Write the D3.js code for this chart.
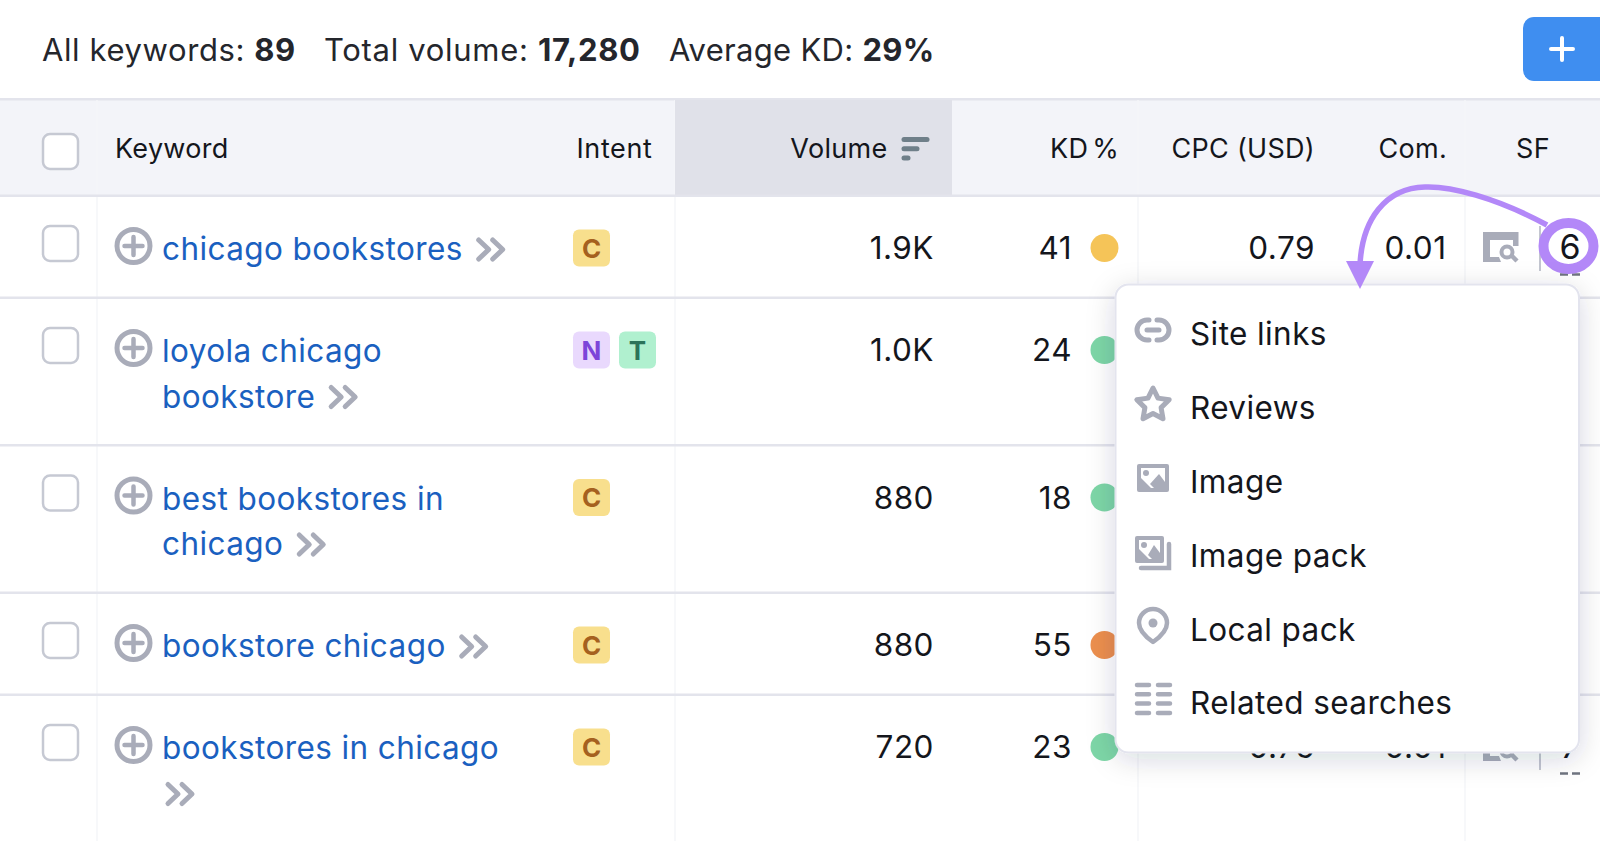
<!DOCTYPE html>
<html>
<head>
<meta charset="utf-8">
<script src="https://cdn.jsdelivr.net/npm/d3@7"></script>
<style>
  html, body { margin: 0; padding: 0; background: #fff; overflow: hidden; }
  svg { display: block; font-family: Inter, "Noto Sans", sans-serif; }
</style>
</head>
<body>
<svg id="grafico"></svg>
<script>
// dados
const resumoRotulos = ["All keywords: ", "Total volume: ", "Average KD: "];
const resumoValores = ["89", "17,280", "29%"];
const colunas = ["Keyword", "Intent", "Volume", "KD %", "CPC (USD)", "Com.", "SF"];
const palavras = [
    ["chicago bookstores"],
    ["loyola chicago", "bookstore"],
    ["best bookstores in", "chicago"],
    ["bookstore chicago"],
    ["bookstores in chicago", ""]
];
const intencoes = [["C"], ["N", "T"], ["C"], ["C"], ["C"]];
const volumes = ["1.9K", "1.0K", "880", "880", "720"];
const kd = [41, 24, 18, 55, 23];
const cpc = ["0.79", null, null, null, "0.76"];
const com = ["0.01", null, null, null, "0.01"];
const sf = ["6", null, null, null, "7"];
const recursos = ["Site links", "Reviews", "Image", "Image pack", "Local pack", "Related searches"];

const largura = 1600, altura = 841;
const corTexto = "#14161c", corIcone = "#a9acb9", corLink = "#1a60c0", corLinha = "#e3e4ec", corRoxo = "#b388f8";

const svg = d3.select("#grafico").attr("width", largura).attr("height", altura);

// linhas da tabela: altura depende do numero de linhas do texto
const topoTabela = 196;
const alturas = palavras.map(p => 102 + (p.length - 1) * 45.5);
const topos = [topoTabela, ...d3.cumsum(alturas).map(v => v + topoTabela)];
const fnY = d3.scaleOrdinal().domain(d3.range(palavras.length)).range(topos);

const fnColuna = d3.scaleOrdinal()
    .domain(colunas)
    .range([115, 576.5, 887.5, 1119, 1315, 1447, 1533]);
const fnBorda = d3.scaleOrdinal()
    .domain(["Volume", "KD %", "CPC (USD)", "Com."])
    .range([934, 1072, 1315, 1446.5]);
const fnResumo = d3.scaleOrdinal().domain(resumoRotulos).range([42, 324, 669]);
const fnEspaco = d3.scaleOrdinal().domain(resumoRotulos).range([0.6, 0.7, 0.3]);
const fnCorKd = d3.scaleThreshold().domain([30, 50]).range(["#7dd6a7", "#f5c458", "#ec8f4e"]);
const fnCorIntent = d3.scaleOrdinal().domain(["C", "N", "T"]).range(["#f8df8d", "#e9d9fd", "#b0f0cf"]);
const fnTextoIntent = d3.scaleOrdinal().domain(["C", "N", "T"]).range(["#a5611f", "#7d45d9", "#2b7359"]);

// barra de resumo
const textoResumo = svg.append("g").selectAll("text").data(resumoRotulos).enter().append("text")
    .attr("x", d => fnResumo(d)).attr("y", 61)
    .attr("font-size", 31).attr("letter-spacing", d => fnEspaco(d)).attr("fill", "#24262c");
textoResumo.append("tspan").text(d => d);
textoResumo.append("tspan").attr("font-weight", 700).text((d, i) => resumoValores[i]);

svg.append("rect").attr("x", 1523).attr("y", 17).attr("width", 120).attr("height", 64).attr("rx", 11).attr("fill", "#3f8ef0");
svg.append("path").attr("d", "M1551,49H1573M1562,38V60")
    .attr("stroke", "#fff").attr("stroke-width", 4).attr("stroke-linecap", "round");

// cabecalho
svg.append("rect").attr("x", 0).attr("y", 99).attr("width", largura).attr("height", 97).attr("fill", "#f3f4f9");
svg.append("rect").attr("x", 0).attr("y", 98).attr("width", largura).attr("height", 2.5).attr("fill", corLinha);

// divisorias verticais
svg.append("g").selectAll("line").data([97, 675, 1138, 1465]).enter().append("line")
    .attr("x1", d => d).attr("x2", d => d).attr("y1", 100).attr("y2", altura)
    .attr("stroke", "#f5f6f9").attr("stroke-width", 1.5);
svg.append("rect").attr("x", 675).attr("y", 100).attr("width", 277).attr("height", 96).attr("fill", "#e0e1e9");

svg.append("g").selectAll("text").data(colunas).enter().append("text")
    .text(d => d)
    .attr("x", d => fnColuna(d))
    .attr("y", 158)
    .attr("text-anchor", d => (d === "Keyword" || d === "Intent") ? "start" : d === "SF" ? "middle" : "end")
    .attr("word-spacing", d => d === "KD %" ? -4 : 0)
    .attr("letter-spacing", d => d === "Intent" ? 0.6 : 0.3)
    .attr("font-size", 27).attr("fill", corTexto);

svg.append("g").selectAll("line").data([28, 18, 9]).enter().append("line")
    .attr("x1", 904).attr("x2", d => 904 + d - 5)
    .attr("y1", (d, i) => 139.5 + i * 9.3).attr("y2", (d, i) => 139.5 + i * 9.3)
    .attr("stroke", "#6f7f89").attr("stroke-width", 5).attr("stroke-linecap", "round");

function caixa(sel, x, y) {
    sel.append("rect").attr("x", x).attr("y", y).attr("width", 35).attr("height", 35).attr("rx", 7)
        .attr("fill", "#fff").attr("stroke", "#c6c9d3").attr("stroke-width", 2.5);
}
caixa(svg, 43, 134);

// linhas separadoras
svg.append("g").selectAll("rect").data(topos.slice(0, 5)).enter().append("rect")
    .attr("x", 0).attr("y", d => d - 1.5).attr("width", largura).attr("height", 2.5).attr("fill", corLinha);

// linhas de dados
const linhas = svg.append("g").selectAll("g").data(palavras).enter().append("g")
    .attr("transform", (d, i) => `translate(0,${fnY(i)})`);

linhas.each(function(linhasTexto, i) {
    const g = d3.select(this);
    caixa(g, 43, 30);

    // icone de adicionar
    g.append("circle").attr("cx", 133.5).attr("cy", 50).attr("r", 16.5).attr("fill", "#fff")
        .attr("stroke", corIcone).attr("stroke-width", 5);
    g.append("path").attr("d", "M124.5,50H142.5M133.5,41V59").attr("stroke", corIcone)
        .attr("stroke-width", 4.5).attr("stroke-linecap", "round");

    // palavra-chave com chevrons no fim
    let fimTexto = 162, yFim = 64;
    linhasTexto.forEach((t, j) => {
        const el = g.append("text").text(t).attr("x", 162).attr("y", 64 + j * 45.5)
            .attr("font-size", 31.5).attr("letter-spacing", 0.4).attr("fill", corLink);
        fimTexto = t ? 162 + el.node().getComputedTextLength() + 16 : 168;
        yFim = 64 + j * 45.5;
    });
    g.append("path")
        .attr("d", `M${fimTexto},${yFim - 20}l10,9.5l-10,9.5M${fimTexto + 14},${yFim - 20}l10,9.5l-10,9.5`)
        .attr("fill", "none").attr("stroke", corIcone).attr("stroke-width", 5).attr("stroke-linecap", "round").attr("stroke-linejoin", "round");

    // intencao
    const badges = g.selectAll(".intent").data(intencoes[i]).enter().append("g").classed("intent", true)
        .attr("transform", (d, k) => `translate(${573 + k * 46},33.5)`);
    badges.append("rect").attr("width", 37).attr("height", 37).attr("rx", 6).attr("fill", d => fnCorIntent(d));
    badges.append("text").text(d => d).attr("x", 18.5).attr("y", 28).attr("text-anchor", "middle")
        .attr("font-size", 26).attr("font-weight", 700).attr("fill", d => fnTextoIntent(d));

    // valores
    const numero = (txt, col) => g.append("text").text(txt).attr("x", fnBorda(col)).attr("y", 63)
        .attr("text-anchor", "end").attr("font-size", 31.5).attr("letter-spacing", 0.5).attr("fill", corTexto);
    numero(volumes[i], "Volume");
    numero(kd[i], "KD %");
    g.append("circle").attr("cx", 1104.5).attr("cy", 52).attr("r", 14).attr("fill", fnCorKd(kd[i]));

    if (cpc[i] !== null) {
        numero(cpc[i], "CPC (USD)");
        numero(com[i], "Com.");
        // icone serp
        g.append("path")
            .attr("d", "M1483,36H1518.5V50H1513V44H1490V61H1499L1501,66H1483Z")
            .attr("fill", corIcone);
        g.append("circle").attr("cx", 1507).attr("cy", 56).attr("r", 5.5).attr("fill", "none").attr("stroke", corIcone).attr("stroke-width", 4);
        g.append("line").attr("x1", 1512).attr("y1", 60).attr("x2", 1517).attr("y2", 65).attr("stroke", corIcone).attr("stroke-width", 4.5);
        g.append("line").attr("x1", 1540).attr("x2", 1540).attr("y1", 30).attr("y2", 75).attr("stroke", "#c3c6d0").attr("stroke-width", 2);
        g.append("text").text(sf[i]).attr("x", 1570).attr("y", 63).attr("text-anchor", "middle")
            .attr("font-size", 34).attr("fill", corTexto);
        g.append("path").attr("d", "M1560,78.5h8M1572,78.5h8").attr("stroke", "#6f7480").attr("stroke-width", 2.5);
    }
});

// seta de anotacao e destaque no SF
svg.append("path").attr("d", "M1547,225C1495,197 1450,186 1425,187C1385,188 1362,220 1360,265")
    .attr("fill", "none").attr("stroke", corRoxo).attr("stroke-width", 5.5);
svg.append("ellipse").attr("cx", 1568.5).attr("cy", 246).attr("rx", 25).attr("ry", 23)
    .attr("fill", "none").attr("stroke", corRoxo).attr("stroke-width", 10);

// popup
const defs = svg.append("defs");
const filtro = defs.append("filter").attr("id", "sombra").attr("x", "-15%").attr("y", "-15%").attr("width", "130%").attr("height", "130%");
filtro.append("feDropShadow").attr("dx", 0).attr("dy", 6).attr("stdDeviation", 14)
    .attr("flood-color", "#1e2340").attr("flood-opacity", 0.16);

svg.append("rect").attr("x", 1115.5).attr("y", 284.5).attr("width", 463.5).attr("height", 468).attr("rx", 13)
    .attr("fill", "#fff").attr("stroke", "#e3e4ee").attr("stroke-width", 2).attr("filter", "url(#sombra)");

svg.append("path").attr("d", "M1346,261L1374,261L1360,289Z").attr("fill", corRoxo);

const baseItens = [345, 419, 493, 567, 641, 714];
const fnItem = d3.scaleOrdinal().domain(recursos).range(baseItens);
svg.append("g").selectAll("text").data(recursos).enter().append("text")
    .text(d => d).attr("x", 1190).attr("y", d => fnItem(d))
    .attr("font-size", 31.5).attr("letter-spacing", 0.4).attr("fill", corTexto);

// icones do popup
const icones = svg.append("g").attr("fill", "none").attr("stroke", corIcone);
icones.append("path").attr("d", "M1149,320H1147A10,10 0 0 0 1147,340H1149M1157,320H1159A10,10 0 0 1 1159,340H1157M1147,330H1159")
    .attr("stroke-width", 5).attr("stroke-linecap", "round");
const estrela = d3.range(10).map(k => {
    const r = k % 2 ? 8.5 : 17, a = -Math.PI / 2 + k * Math.PI / 5;
    return [1153 + r * Math.cos(a), 405 + r * Math.sin(a)];
});
icones.append("path").attr("d", d3.line()(estrela) + "Z").attr("stroke-width", 5).attr("stroke-linejoin", "round");

function imagem(x, y, w, h) {
    const g = svg.append("g");
    g.append("rect").attr("x", x).attr("y", y).attr("width", w).attr("height", h).attr("rx", 2).attr("fill", corIcone);
    g.append("rect").attr("x", x + 4).attr("y", y + 4).attr("width", w - 8).attr("height", h - 8).attr("fill", "#fff");
    g.append("circle").attr("cx", x + 9).attr("cy", y + 9).attr("r", 3).attr("fill", corIcone);
    g.append("path").attr("d", `M${x + 4},${y + h - 14}L${x + 14},${y + h - 4}H${x + 4}Z`).attr("fill", corIcone);
    g.append("path").attr("d", `M${x + 13},${y + h - 8}L${x + w - 10},${y + h - 18}L${x + w - 4},${y + h - 10}V${y + h - 4}H${x + 17}Z`).attr("fill", corIcone);
}
imagem(1137, 464, 32, 28);
imagem(1135, 536, 29, 27);
icones.append("path").attr("d", "M1169,544V568H1141").attr("stroke-width", 4.5).attr("stroke-linecap", "round");

icones.append("path").attr("d", "M1153,642C1143,635 1139,629 1139,623A14,14 0 0 1 1167,623C1167,629 1163,635 1153,642Z")
    .attr("stroke-width", 4.5).attr("stroke-linejoin", "round");
svg.append("circle").attr("cx", 1153).attr("cy", 623).attr("r", 4.5).attr("fill", corIcone);

svg.append("g").selectAll("path").data([0, 1, 2, 3]).enter().append("path")
    .attr("d", d => `M1137,${685 + d * 9.3}h12M1158,${685 + d * 9.3}h12`)
    .attr("stroke", corIcone).attr("stroke-width", 4.5).attr("stroke-linecap", "round");
</script>
</body>
</html>
